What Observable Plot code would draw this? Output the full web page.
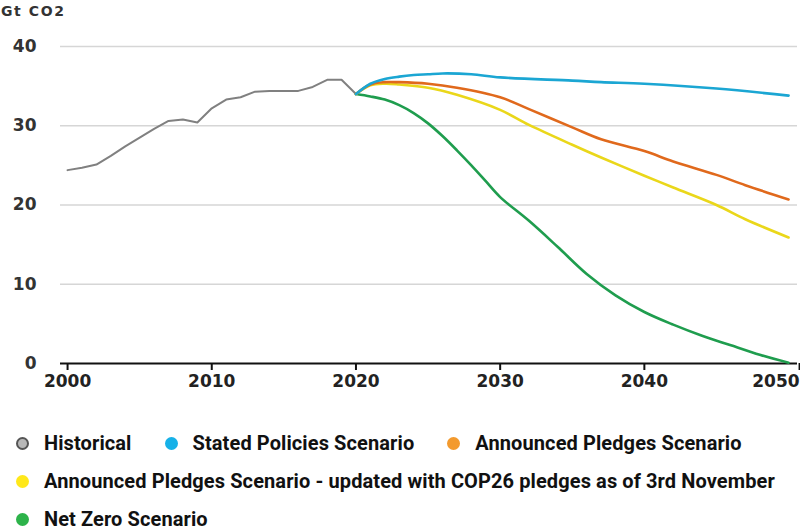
<!DOCTYPE html>
<html>
<head>
<meta charset="utf-8">
<script src="https://cdn.jsdelivr.net/npm/d3@7"></script>
<script src="https://cdn.jsdelivr.net/npm/@observablehq/plot@0.6"></script>
<style>
  body { margin: 0; background: #fff; }
  #wrap { position: relative; width: 800px; }
  #ylabel { position: absolute; left: 1px; top: 3px; font-family: "DejaVu Sans", sans-serif; font-weight: bold; font-size: 14px; color: #333; letter-spacing: 1.6px; }
  #legend { display: flex; flex-wrap: wrap; margin-top: 32px; padding-left: 16px; gap: 16px 33px; width: 784px; font-family: Roboto, "Noto Sans", sans-serif; font-weight: bold; font-size: 20px; line-height: 22px; color: #111; letter-spacing: 0.1px; }
  .item { display: inline-flex; align-items: center; height: 22px; white-space: nowrap; }
  .dot { width: 13px; height: 13px; border-radius: 50%; margin-right: 15px; box-sizing: border-box; flex: none; }
</style>
</head>
<body>
<div id="wrap">
  <div id="ylabel">Gt CO2</div>
  <div id="chart"></div>
  <div id="legend"></div>
</div>
<script>
// ---- data ----
const seriesNames = [
  "Historical",
  "Stated Policies Scenario",
  "Announced Pledges Scenario",
  "Announced Pledges Scenario - updated with COP26 pledges as of 3rd November",
  "Net Zero Scenario"
];
const lineColors = ["#808080", "#1ba6d3", "#e0691c", "#ead71a", "#1f9d4e"];
const dotColors  = ["#b8b8b8", "#16b1e8", "#f39a2e", "#ffe81a", "#2db34a"];

const histYears  = [2000,2001,2002,2003,2004,2005,2006,2007,2008,2009,2010,2011,2012,2013,2014,2015,2016,2017,2018,2019,2020];
const histValues = [24.4,24.7,25.1,26.2,27.4,28.5,29.6,30.6,30.8,30.4,32.2,33.3,33.6,34.3,34.4,34.4,34.4,34.9,35.8,35.8,34.0];

const stepsYears  = [2020,2021,2022,2023,2024,2025,2026,2028,2030,2035,2037,2040,2045,2050];
const stepsValues = [34.0,35.3,35.9,36.2,36.4,36.5,36.6,36.5,36.1,35.7,35.5,35.3,34.7,33.8];

const apsYears  = [2020,2021,2022,2023,2025,2027,2030,2032,2035,2037,2040,2042,2045,2047,2050];
const apsValues = [34.0,35.2,35.5,35.5,35.3,34.8,33.6,32.1,29.8,28.3,26.8,25.5,23.8,22.5,20.7];

const cop26Years  = [2020,2021,2022,2023,2025,2027,2030,2032,2035,2037,2040,2042,2045,2047,2050];
const cop26Values = [34.0,35.1,35.3,35.2,34.8,33.9,32.0,30.1,27.6,26.0,23.7,22.2,20.0,18.2,15.9];

const nzeYears  = [2020,2021,2022,2023,2024,2025,2026,2027,2028,2029,2030,2032,2034,2036,2038,2040,2042,2044,2046,2048,2050];
const nzeValues = [34.0,33.7,33.3,32.6,31.6,30.3,28.7,26.9,25.0,23.0,21.0,18.0,14.7,11.3,8.6,6.5,4.9,3.5,2.3,1.1,0.1];

const xTicks = [2000, 2010, 2020, 2030, 2040, 2050];
const yTicks = [0, 10, 20, 30, 40];

// ---- build tables ----
const toRows = (name, ys, vs) => ys.map((y, i) => ({series: name, year: y, value: vs[i]}));
const hist = toRows(seriesNames[0], histYears, histValues);
const scen = [
  toRows(seriesNames[4], nzeYears, nzeValues),
  toRows(seriesNames[3], cop26Years, cop26Values),
  toRows(seriesNames[2], apsYears, apsValues),
  toRows(seriesNames[1], stepsYears, stepsValues)
].flat();

const tickFont = "DejaVu Sans, sans-serif";
const lastTick = xTicks[xTicks.length - 1];

const chart = Plot.plot({
  width: 800,
  height: 400,
  marginTop: 46,
  marginBottom: 37,
  marginLeft: 60,
  marginRight: 3,
  style: {fontFamily: tickFont, fontSize: "17px", fontWeight: "bold", color: "#333", background: "#fff"},
  x: {domain: [1999.51, 2050.62]},
  y: {domain: [0, 40]},
  color: {domain: seriesNames, range: lineColors},
  marks: [
    Plot.gridY(yTicks.filter(d => d > 0), {stroke: "#d6d6d6", strokeOpacity: 1, strokeWidth: 1.5}),
    Plot.axisY(yTicks, {tickSize: 0, tickPadding: 24, label: null, fill: "#333", fontSize: 17}),
    Plot.axisX(xTicks.slice(0, -1), {tickSize: 7, tickPadding: 4, tickFormat: d => String(d), label: null, stroke: "#111", strokeWidth: 2, fill: "#222", fontSize: 17}),
    Plot.axisX([lastTick], {tickSize: 7, tickPadding: 4, tickFormat: d => String(d), label: null, stroke: "#111", strokeWidth: 2, fill: "#222", fontSize: 17, textAnchor: "end", dx: 11}),
    Plot.ruleY([0], {stroke: "#111", strokeWidth: 2}),
    Plot.line(hist, {x: "year", y: "value", stroke: "series", strokeWidth: 2}),
    Plot.line(scen, {x: "year", y: "value", z: "series", stroke: "series", strokeWidth: 2.6, curve: "catmull-rom"})
  ]
});
document.getElementById("chart").appendChild(chart);

// ---- legend ----
const legend = document.getElementById("legend");
seriesNames.forEach((name, i) => {
  const item = document.createElement("div");
  item.className = "item";
  const dot = document.createElement("span");
  dot.className = "dot";
  dot.style.background = dotColors[i];
  if (i === 0) dot.style.border = "2px solid #555";
  const label = document.createElement("span");
  label.textContent = name;
  item.appendChild(dot);
  item.appendChild(label);
  legend.appendChild(item);
});
</script>
</body>
</html>
